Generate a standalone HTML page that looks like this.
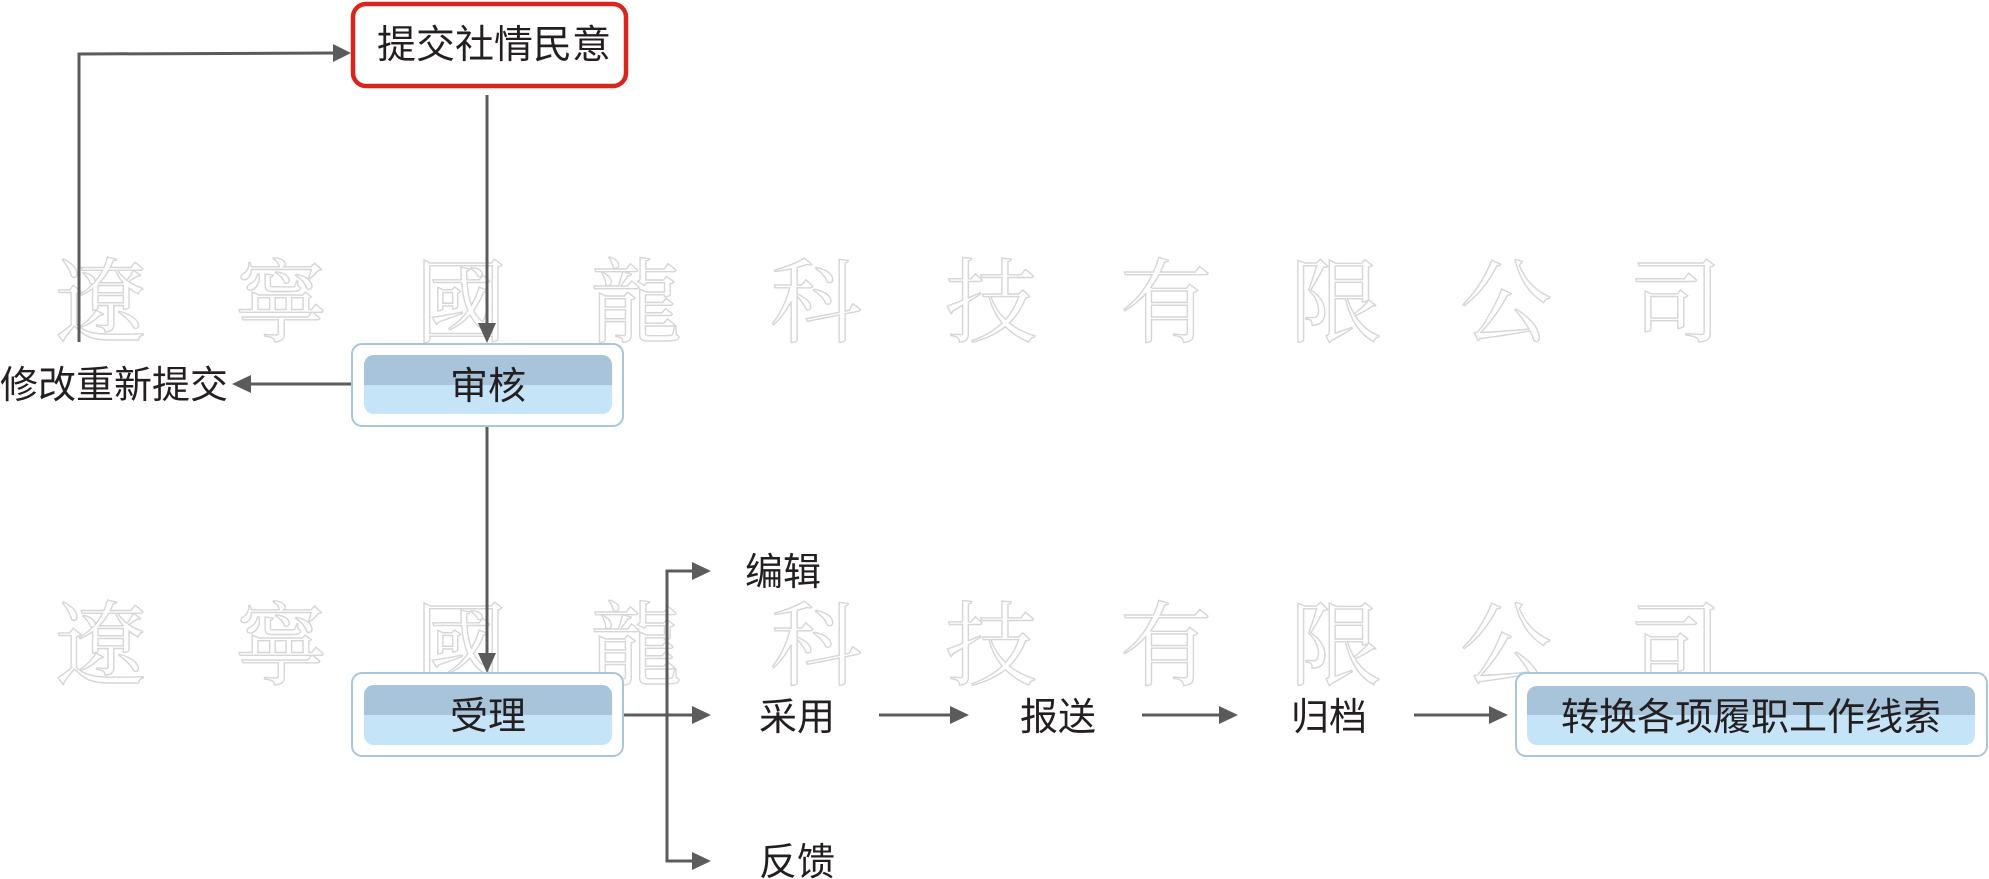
<!DOCTYPE html>
<html><head><meta charset="utf-8"><style>
html,body{margin:0;padding:0;background:#fff;}
svg{display:block;}
text{font-family:"Liberation Sans","Noto Sans CJK SC",sans-serif;fill:#231f20;}
.wm text{font-family:"Noto Serif CJK SC","Noto Sans CJK SC",serif;font-size:92px;fill:none;stroke:#d6d6d6;stroke-width:1.4;}
</style></head><body>
<svg width="1989" height="879" viewBox="0 0 1989 879" xmlns="http://www.w3.org/2000/svg">
<!-- watermark -->
<g class="wm">
<text x="55" y="335">遼</text><text x="235" y="335">寧</text><text x="415" y="335">國</text><text x="590" y="335">龍</text><text x="770" y="335">科</text><text x="945" y="335">技</text><text x="1120" y="335">有</text><text x="1290" y="335">限</text><text x="1460" y="335">公</text><text x="1630" y="335">司</text>
<text x="55" y="678">遼</text><text x="235" y="678">寧</text><text x="415" y="678">國</text><text x="590" y="678">龍</text><text x="770" y="678">科</text><text x="945" y="678">技</text><text x="1120" y="678">有</text><text x="1290" y="678">限</text><text x="1460" y="678">公</text><text x="1630" y="678">司</text>
</g>

<g stroke="#5b5b5b" stroke-width="3" fill="none">
<polyline points="79,342 79,54 336,53"/>
<line x1="487" y1="95" x2="487" y2="325"/>
<line x1="351" y1="384" x2="248" y2="384"/>
<line x1="487" y1="426" x2="487" y2="655"/>
<line x1="623" y1="715" x2="694" y2="715"/>
<polyline points="694,571 667,571 667,861 694,861"/>
<line x1="879" y1="715" x2="950" y2="715"/>
<line x1="1142" y1="715" x2="1219" y2="715"/>
<line x1="1414" y1="715" x2="1489" y2="715"/>
</g>
<g fill="#5b5b5b">
<polygon points="351,53 333,44 333,62"/>
<polygon points="487,343 478,323 496,323"/>
<polygon points="232,384 251,375 251,393"/>
<polygon points="487,673 478,653 496,653"/>
<polygon points="711,571 692,562 692,580"/>
<polygon points="711,715 692,706 692,724"/>
<polygon points="711,861 692,852 692,870"/>
<polygon points="969,715 950,706 950,724"/>
<polygon points="1238,715 1219,706 1219,724"/>
<polygon points="1508,715 1489,706 1489,724"/>
</g>

<rect x="353" y="4" width="273" height="82" rx="13" fill="#fff" stroke="#d9261c" stroke-width="4.5"/>
<text x="494" y="58" font-size="39" text-anchor="middle">提交社情民意</text>

<g>
<rect x="352" y="344" width="271" height="82" rx="10" fill="#fff" stroke="#a8c6dd" stroke-width="2"/>
<rect x="364" y="355" width="248" height="59" rx="10" fill="#c5e4f7"/>
<path d="M364,385 V365 a10,10 0 0 1 10,-10 H602 a10,10 0 0 1 10,10 V385 Z" fill="#a7c4da"/>
<text x="488" y="399" font-size="38" text-anchor="middle">审核</text>

<rect x="352" y="673" width="271" height="83" rx="10" fill="#fff" stroke="#a8c6dd" stroke-width="2"/>
<rect x="364" y="685" width="248" height="60" rx="10" fill="#c5e4f7"/>
<path d="M364,715 V695 a10,10 0 0 1 10,-10 H602 a10,10 0 0 1 10,10 V715 Z" fill="#a7c4da"/>
<text x="488" y="729" font-size="38" text-anchor="middle">受理</text>

<rect x="1516" y="673" width="471" height="83" rx="10" fill="#fff" stroke="#a8c6dd" stroke-width="2"/>
<rect x="1527" y="686" width="448" height="59" rx="10" fill="#c5e4f7"/>
<path d="M1527,715 V696 a10,10 0 0 1 10,-10 H1965 a10,10 0 0 1 10,10 V715 Z" fill="#a7c4da"/>
<text x="1751" y="730" font-size="38" text-anchor="middle">转换各项履职工作线索</text>
</g>

<text x="0" y="398" font-size="38">修改重新提交</text>
<text x="745" y="585" font-size="38">编辑</text>
<text x="759" y="730" font-size="38">采用</text>
<text x="759" y="875" font-size="38">反馈</text>
<text x="1020" y="730" font-size="38">报送</text>
<text x="1291" y="730" font-size="38">归档</text>
</svg>
</body></html>
